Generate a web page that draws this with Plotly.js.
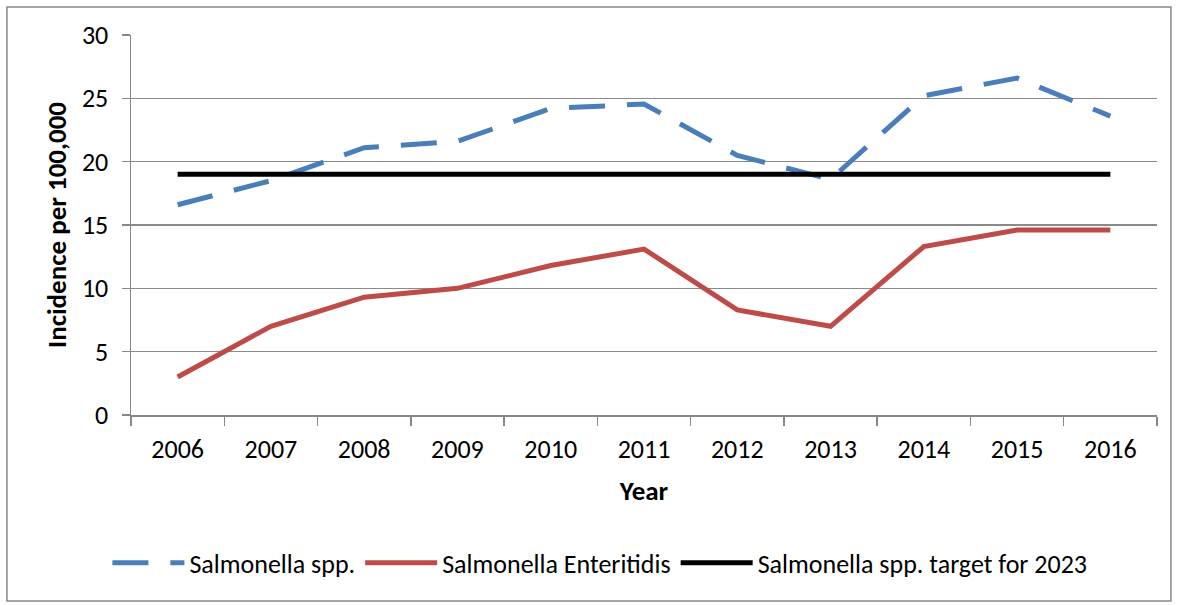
<!DOCTYPE html>
<html><head><meta charset="utf-8">
<script src="https://cdn.plot.ly/plotly-3.0.1.min.js"></script>
<style>html,body{margin:0;padding:0;background:#fff}#chart{width:1178px;height:605px}</style>
</head><body><div id="chart"></div>
<script>
const years = ['2006','2007','2008','2009','2010','2011','2012','2013','2014','2015','2016'];
const salmonellaSpp = [16.6, 18.5, 21.1, 21.6, 24.2, 24.55, 20.5, 18.6, 25.2, 26.6, 23.6];
const salmonellaEnteritidis = [3.0, 7.0, 9.3, 10.0, 11.8, 13.1, 8.3, 7.0, 13.3, 14.6, 14.6];
const target2023 = [19, 19, 19, 19, 19, 19, 19, 19, 19, 19, 19];
const seriesNames = ['Salmonella spp.', 'Salmonella Enteritidis', 'Salmonella spp. target for 2023'];

const font = 'Carlito, Calibri, Lato, "Open Sans", sans-serif';
const traces = [
  {x: years, y: salmonellaSpp, name: seriesNames[0], type: 'scatter', mode: 'lines',
   line: {color: '#4a7ebb', width: 5, dash: '36px,22px'}},
  {x: years, y: salmonellaEnteritidis, name: seriesNames[1], type: 'scatter', mode: 'lines',
   line: {color: '#be4b48', width: 5}},
  {x: years, y: target2023, name: seriesNames[2], type: 'scatter', mode: 'lines',
   line: {color: '#000000', width: 5}}
];
const layout = {
  width: 1178, height: 605,
  margin: {l: 131, r: 21, t: 35, b: 190},
  paper_bgcolor: '#fff', plot_bgcolor: '#fff',
  font: {family: font, size: 26, color: '#000'},
  showlegend: true,
  legend: {orientation: 'h', x: 0.457, xanchor: 'center', y: -0.389, yanchor: 'middle',
           font: {size: 26}, itemwidth: 72, tracegroupgap: 0},
  xaxis: {type: 'category', range: [-0.5, 10.5], showgrid: false,
          showline: true, linecolor: '#888', linewidth: 1.5,
          ticks: 'outside', tickson: 'boundaries', ticklen: 9, tickcolor: '#888', tickwidth: 1.5,
          ticklabelstandoff: 10,
          tickfont: {size: 26}, title: {text: '<b>Year</b>', font: {size: 27}, standoff: 17},
          fixedrange: true},
  yaxis: {range: [0, 30], dtick: 5, showgrid: true, gridcolor: '#8a8a8a', gridwidth: 1.5,
          showline: true, linecolor: '#888', linewidth: 1.5, zeroline: false,
          ticks: 'outside', ticklen: 8, tickcolor: '#888', tickwidth: 1.5,
          ticklabelstandoff: 8,
          tickfont: {size: 26}, title: {text: '<b>Incidence per 100,000</b>', font: {size: 27}, standoff: 7},
          fixedrange: true},
  shapes: [{type: 'rect', xref: 'paper', yref: 'paper', x0: -0.1209, x1: 1.0136, y0: -0.4895, y1: 1.0737,
            line: {color: '#888', width: 1.5}, fillcolor: 'rgba(0,0,0,0)'}]
};
Plotly.newPlot('chart', traces, layout, {displayModeBar: false, staticPlot: true});
</script></body></html>
